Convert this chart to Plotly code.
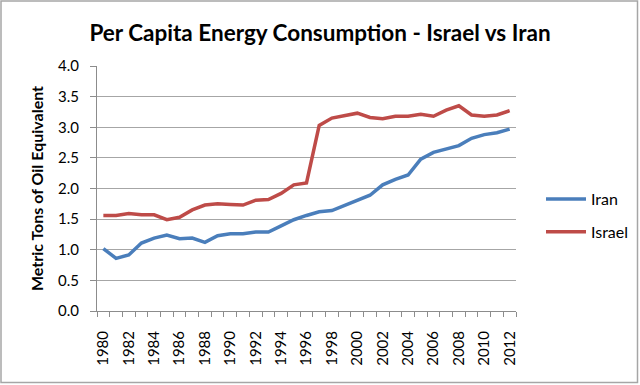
import plotly.graph_objects as go

years = list(range(1980, 2013))
iran = [1.02, 0.86, 0.915, 1.11, 1.19, 1.24, 1.18, 1.19, 1.12, 1.23, 1.26, 1.26, 1.29, 1.29,
        1.39, 1.49, 1.56, 1.62, 1.64, 1.72, 1.80, 1.89, 2.06, 2.15, 2.22, 2.48, 2.59, 2.64,
        2.70, 2.82, 2.88, 2.91, 2.97]
israel = [1.56, 1.56, 1.59, 1.57, 1.57, 1.49, 1.53, 1.65, 1.73, 1.75, 1.74, 1.73, 1.81, 1.82,
          1.92, 2.06, 2.09, 3.03, 3.15, 3.19, 3.23, 3.16, 3.14, 3.18, 3.18, 3.21, 3.18, 3.28,
          3.35, 3.20, 3.18, 3.20, 3.27]
tick_years = list(range(1980, 2013, 2))
y_ticks = [0, 0.5, 1.0, 1.5, 2.0, 2.5, 3.0, 3.5, 4.0]

FONT = "Lato"

fig = go.Figure()
fig.add_trace(go.Scatter(x=years, y=iran, mode="lines", name="Iran", legendgroup="a",
                         line=dict(color="#4A7EBB", width=3.5)))
fig.add_trace(go.Scatter(x=years, y=israel, mode="lines", name="Israel", legendgroup="b",
                         line=dict(color="#BE4B48", width=3.5)))

L, R, T, B = 97, 124, 66, 74
pw = 640 - L - R
ph = 385 - T - B

fig.update_layout(
    width=640, height=385,
    margin=dict(l=L, r=R, t=T, b=B, autoexpand=False),
    paper_bgcolor="white", plot_bgcolor="white",
    title=dict(text="<b>Per Capita Energy Consumption - Israel vs Iran</b>",
               x=0.5, xanchor="center", y=1 - 33 / 385, yanchor="middle",
               font=dict(family=FONT, size=22.5, color="black")),
    font=dict(family=FONT, size=14, color="black"),
    legend=dict(x=(541 - L) / pw, xanchor="left", y=(311 - 182) / ph, yanchor="top",
                font=dict(family=FONT, size=16, color="black"),
                itemwidth=40, tracegroupgap=9, bgcolor="rgba(0,0,0,0)"),
    showlegend=True,
    shapes=[dict(type="rect", xref="paper", yref="paper",
                 x0=(1 - L) / pw, x1=(637.5 - L) / pw,
                 y0=(311 - 382.5) / ph, y1=(311 - 1) / ph,
                 line=dict(color="#A6A6A6", width=1.5))],
)
fig.update_xaxes(
    range=[1979.5, 2012.5], tickmode="array", tickvals=tick_years,
    ticktext=[str(y) for y in tick_years], tickangle=-90,
    ticks="", ticklabelstandoff=13, showgrid=False, showline=True,
    linecolor="#8C8C8C", linewidth=1,
    tickfont=dict(family=FONT, size=15, color="black"),
    minor=dict(ticks="outside", tick0=1979.5, dtick=1, ticklen=5,
               tickcolor="#8C8C8C", showgrid=False),
    zeroline=False, automargin=False,
)
fig.update_yaxes(
    range=[0, 4], tickmode="array", tickvals=y_ticks,
    ticktext=[f"{v:.1f}" for v in y_ticks],
    showgrid=True, gridcolor="#A6A6A6", gridwidth=1,
    showline=True, linecolor="#8C8C8C", linewidth=1,
    ticks="outside", ticklen=6, tickcolor="#8C8C8C", ticklabelstandoff=8,
    tickfont=dict(family=FONT, size=15, color="black"),
    title=dict(text="<b>Metric Tons of Oil Equivalent</b>",
               font=dict(family=FONT, size=16, color="black"), standoff=10),
    zeroline=False, automargin=False,
)

fig.write_html("out.html", config={"displayModeBar": False},
               post_script="document.body.style.margin='0';document.body.style.padding='0';")
